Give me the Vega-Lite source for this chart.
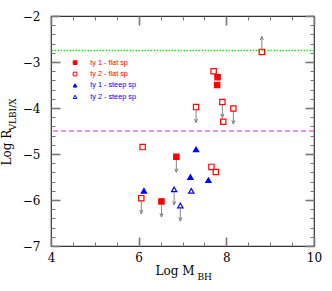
{
  "$schema": "https://vega.github.io/schema/vega-lite/v6.json",
  "width": 263,
  "height": 230,
  "autosize": {"type": "none"},
  "padding": {"left": 51, "top": 16, "right": 18, "bottom": 45},
  "background": "white",
  "config": {
    "view": {"stroke": "#333", "strokeWidth": 1.2},
    "axis": {
      "grid": false,
      "domain": false,
      "labelFont": "DejaVu Serif",
      "labelFontSize": 12,
      "labelColor": "#000",
      "labelFlush": false,
      "labelOverlap": false,
      "labelBound": false,
      "titleFont": "DejaVu Serif",
      "titleFontWeight": "normal",
      "titleColor": "#000",
      "tickColor": "#777"
    }
  },
  "datasets": {
    "levels": [
      {"kind": "green", "level": -2.75},
      {"kind": "magenta", "level": -4.5}
    ],
    "pts": [
      {"x": 7.80, "y": -3.33, "type": "ty 1 - flat sp", "lim": "none", "tip": null},
      {"x": 7.79, "y": -3.50, "type": "ty 1 - flat sp", "lim": "none", "tip": null},
      {"x": 6.86, "y": -5.06, "type": "ty 1 - flat sp", "lim": "down", "tip": -5.36},
      {"x": 6.52, "y": -6.03, "type": "ty 1 - flat sp", "lim": "down", "tip": -6.33},
      {"x": 8.81, "y": -2.78, "type": "ty 2 - flat sp", "lim": "up", "tip": -2.48},
      {"x": 7.71, "y": -3.20, "type": "ty 2 - flat sp", "lim": "none", "tip": null},
      {"x": 7.31, "y": -3.98, "type": "ty 2 - flat sp", "lim": "down", "tip": -4.28},
      {"x": 7.91, "y": -3.87, "type": "ty 2 - flat sp", "lim": "down", "tip": -4.17},
      {"x": 7.93, "y": -4.30, "type": "ty 2 - flat sp", "lim": "none", "tip": null},
      {"x": 8.16, "y": -4.01, "type": "ty 2 - flat sp", "lim": "down", "tip": -4.31},
      {"x": 6.09, "y": -4.85, "type": "ty 2 - flat sp", "lim": "none", "tip": null},
      {"x": 6.06, "y": -5.96, "type": "ty 2 - flat sp", "lim": "down", "tip": -6.26},
      {"x": 7.66, "y": -5.28, "type": "ty 2 - flat sp", "lim": "none", "tip": null},
      {"x": 7.76, "y": -5.39, "type": "ty 2 - flat sp", "lim": "none", "tip": null},
      {"x": 6.12, "y": -5.80, "type": "ty 1 - steep sp", "lim": "none", "tip": null},
      {"x": 7.31, "y": -4.90, "type": "ty 1 - steep sp", "lim": "none", "tip": null},
      {"x": 7.18, "y": -5.50, "type": "ty 1 - steep sp", "lim": "none", "tip": null},
      {"x": 7.59, "y": -5.57, "type": "ty 1 - steep sp", "lim": "none", "tip": null},
      {"x": 6.81, "y": -5.77, "type": "ty 2 - steep sp", "lim": "down", "tip": -6.07},
      {"x": 7.20, "y": -5.80, "type": "ty 2 - steep sp", "lim": "none", "tip": null},
      {"x": 6.95, "y": -6.12, "type": "ty 2 - steep sp", "lim": "down", "tip": -6.42}
    ]
  },
  "resolve": {"axis": {"x": "independent", "y": "independent"}},
  "layer": [
    {
      "data": {"name": "levels"},
      "transform": [{"filter": "datum.kind == 'green'"}],
      "mark": {"type": "rule", "color": "#22ee22", "strokeWidth": 1.3, "strokeDash": [1.5, 1.5]},
      "encoding": {
        "y": {
          "field": "level", "type": "quantitative",
          "scale": {"domain": [-7, -2], "nice": false, "zero": false},
          "axis": {
            "orient": "left", "values": [-7, -6, -5, -4, -3, -2], "ticks": false,
            "labelPadding": 11,
            "title": "Log R", "titleFontSize": 12, "titleAngle": -90,
            "titleX": -41, "titleY": 149, "titleAlign": "left", "titleBaseline": "alphabetic"
          }
        }
      }
    },
    {
      "data": {"name": "levels"},
      "transform": [{"filter": "datum.kind == 'magenta'"}],
      "mark": {"type": "rule", "color": "#ee66ee", "strokeWidth": 1.3, "strokeDash": [5, 3]},
      "encoding": {
        "y": {
          "field": "level", "type": "quantitative",
          "scale": {"domain": [-7, -2], "nice": false, "zero": false},
          "axis": {
            "orient": "left", "labels": false, "ticks": false,
            "title": "VLBI/X", "titleFontSize": 9, "titleAngle": -90,
            "titleX": -36, "titleY": 114, "titleAlign": "left", "titleBaseline": "alphabetic"
          }
        }
      }
    },
    {
      "data": {"name": "pts"},
      "transform": [{"filter": "datum.lim == 'down'"}],
      "mark": {"type": "rule", "color": "#888", "strokeWidth": 1, "yOffset": 3},
      "encoding": {
        "x": {
          "field": "x", "type": "quantitative",
          "scale": {"domain": [4, 10], "nice": false, "zero": false},
          "axis": {
            "orient": "bottom", "values": [4, 6, 8, 10], "ticks": false,
            "labelPadding": 6,
            "title": "Log  M", "titleFontSize": 12,
            "titleX": 104, "titleY": 28, "titleAlign": "left", "titleBaseline": "alphabetic", "titleAngle": 0
          }
        },
        "y": {
          "field": "y", "type": "quantitative",
          "scale": {"domain": [-7, -2], "nice": false, "zero": false},
          "axis": {
            "orient": "left", "labels": false, "title": null,
            "values": [-7, -6.8, -6.6, -6.4, -6.2, -6, -5.8, -5.6, -5.4, -5.2, -5, -4.8, -4.6, -4.4, -4.2, -4, -3.8, -3.6, -3.4, -3.2, -3, -2.8, -2.6, -2.4, -2.2, -2],
            "tickSize": {"condition": {"test": "abs(datum.value - round(datum.value)) < 0.01", "value": -9}, "value": -4},
            "tickWidth": {"condition": {"test": "abs(datum.value - round(datum.value)) < 0.01", "value": 1.6}, "value": 1}
          }
        },
        "y2": {"field": "tip"}
      }
    },
    {
      "data": {"name": "pts"},
      "transform": [{"filter": "datum.lim == 'up'"}],
      "mark": {"type": "rule", "color": "#888", "strokeWidth": 1, "yOffset": -3},
      "encoding": {
        "x": {
          "field": "x", "type": "quantitative",
          "scale": {"domain": [4, 10], "nice": false, "zero": false},
          "axis": {
            "orient": "bottom", "labels": false, "ticks": false,
            "title": "BH", "titleFontSize": 9,
            "titleX": 146, "titleY": 33, "titleAlign": "left", "titleBaseline": "alphabetic", "titleAngle": 0
          }
        },
        "y": {
          "field": "y", "type": "quantitative",
          "scale": {"domain": [-7, -2], "nice": false, "zero": false},
          "axis": {
            "orient": "right", "labels": false, "title": null,
            "values": [-7, -6.8, -6.6, -6.4, -6.2, -6, -5.8, -5.6, -5.4, -5.2, -5, -4.8, -4.6, -4.4, -4.2, -4, -3.8, -3.6, -3.4, -3.2, -3, -2.8, -2.6, -2.4, -2.2, -2],
            "tickSize": {"condition": {"test": "abs(datum.value - round(datum.value)) < 0.01", "value": -9}, "value": -4},
            "tickWidth": {"condition": {"test": "abs(datum.value - round(datum.value)) < 0.01", "value": 1.6}, "value": 1}
          }
        },
        "y2": {"field": "tip"}
      }
    },
    {
      "data": {"name": "pts"},
      "transform": [{"filter": "datum.lim == 'down'"}],
      "mark": {"type": "point", "shape": "M-0.8,-1L0,1L0.8,-1", "filled": false, "stroke": "#777", "strokeWidth": 1, "size": 14, "opacity": 1},
      "encoding": {
        "x": {
          "field": "x", "type": "quantitative",
          "scale": {"domain": [4, 10], "nice": false, "zero": false},
          "axis": {
            "orient": "bottom", "labels": false, "title": null,
            "values": [4, 4.5, 5, 5.5, 6, 6.5, 7, 7.5, 8, 8.5, 9, 9.5, 10],
            "tickSize": {"condition": {"test": "datum.value % 2 == 0", "value": -9}, "value": -4},
            "tickWidth": {"condition": {"test": "datum.value % 2 == 0", "value": 1.6}, "value": 1}
          }
        },
        "y": {
          "field": "tip", "type": "quantitative",
          "scale": {"domain": [-7, -2], "nice": false, "zero": false},
          "axis": null
        }
      }
    },
    {
      "data": {"name": "pts"},
      "transform": [{"filter": "datum.lim == 'up'"}],
      "mark": {"type": "point", "shape": "M-0.8,1L0,-1L0.8,1", "filled": false, "stroke": "#777", "strokeWidth": 1, "size": 14, "opacity": 1},
      "encoding": {
        "x": {
          "field": "x", "type": "quantitative",
          "scale": {"domain": [4, 10], "nice": false, "zero": false},
          "axis": {
            "orient": "top", "labels": false, "title": null,
            "values": [4, 4.5, 5, 5.5, 6, 6.5, 7, 7.5, 8, 8.5, 9, 9.5, 10],
            "tickSize": {"condition": {"test": "datum.value % 2 == 0", "value": -9}, "value": -4},
            "tickWidth": {"condition": {"test": "datum.value % 2 == 0", "value": 1.6}, "value": 1}
          }
        },
        "y": {
          "field": "tip", "type": "quantitative",
          "scale": {"domain": [-7, -2], "nice": false, "zero": false},
          "axis": null
        }
      }
    },
    {
      "data": {"name": "pts"},
      "mark": {"type": "point", "size": 28, "strokeWidth": 1.2, "opacity": 1},
      "encoding": {
        "x": {
          "field": "x", "type": "quantitative",
          "scale": {"domain": [4, 10], "nice": false, "zero": false},
          "axis": null
        },
        "y": {
          "field": "y", "type": "quantitative",
          "scale": {"domain": [-7, -2], "nice": false, "zero": false},
          "axis": null
        },
        "shape": {
          "field": "type", "type": "nominal",
          "scale": {"domain": ["ty 1 - flat sp", "ty 2 - flat sp", "ty 1 - steep sp", "ty 2 - steep sp"], "range": ["square", "square", "triangle-up", "triangle-up"]},
          "legend": {
            "orient": "none", "legendX": 20.4, "legendY": 43, "title": null, "padding": 0,
            "symbolSize": 14, "symbolStrokeWidth": 1, "labelFont": "Liberation Sans", "labelFontSize": 7.3,
            "labelOffset": 11.5, "rowPadding": 2.4,
            "labelColor": {"expr": "indexof(datum.label, 'flat') >= 0 ? '#ff0000' : '#0000ff'"}
          }
        },
        "stroke": {
          "field": "type", "type": "nominal",
          "scale": {"domain": ["ty 1 - flat sp", "ty 2 - flat sp", "ty 1 - steep sp", "ty 2 - steep sp"], "range": ["#ff0000", "#ff0000", "#0000ff", "#0000ff"]}
        },
        "fill": {
          "field": "type", "type": "nominal",
          "scale": {"domain": ["ty 1 - flat sp", "ty 2 - flat sp", "ty 1 - steep sp", "ty 2 - steep sp"], "range": ["#ff0000", "transparent", "#0000ff", "transparent"]}
        }
      }
    }
  ]
}
